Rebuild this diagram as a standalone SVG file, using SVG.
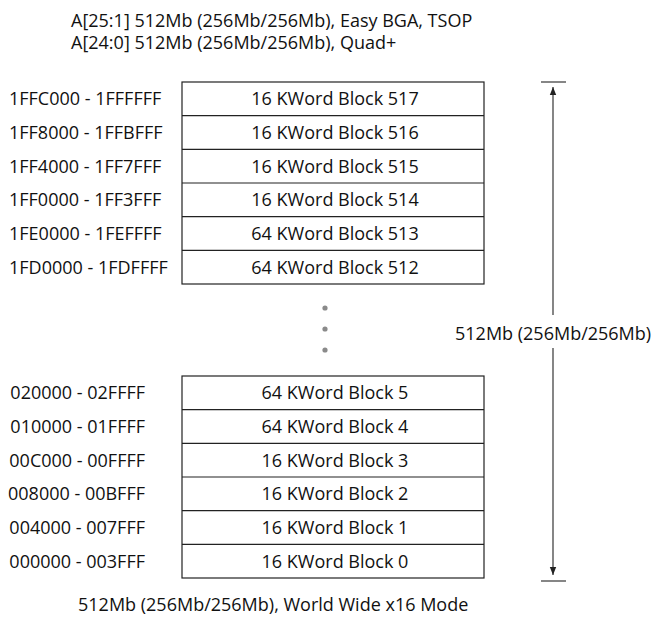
<svg xmlns="http://www.w3.org/2000/svg" width="656" height="623" viewBox="0 0 656 623">
<style>
text{font-family:"Open Sans","Noto Sans","Liberation Sans",sans-serif;font-size:18px;fill:#111}
.c{text-anchor:middle}
.e{text-anchor:end}
.box{fill:#fff;stroke:#222;stroke-width:1.2}
.sep{stroke:#222;stroke-width:1.2}
.dim{stroke:#444;stroke-width:1.3;fill:none}
.dot{fill:#8a8a8a}
</style>
<defs>
<marker id="ah" viewBox="0 0 10 10" refX="10" refY="5" markerWidth="8" markerHeight="8" markerUnits="userSpaceOnUse" orient="auto">
<path d="M0,1 L10,5 L0,9 z" fill="#222"/>
</marker>
</defs>
<rect width="656" height="623" fill="#fff"/>
<g id="title">
<text x="71" y="26.5">A[25:1] 512Mb (256Mb/256Mb), Easy BGA, TSOP</text>
<text x="71" y="49">A[24:0] 512Mb (256Mb/256Mb), Quad+</text>
</g>
<g id="top-blocks">
<rect class="box" x="182" y="82" width="302" height="202"/>
<line class="sep" x1="182" y1="115.7" x2="484" y2="115.7"/>
<line class="sep" x1="182" y1="149.3" x2="484" y2="149.3"/>
<line class="sep" x1="182" y1="183" x2="484" y2="183"/>
<line class="sep" x1="182" y1="216.7" x2="484" y2="216.7"/>
<line class="sep" x1="182" y1="250.3" x2="484" y2="250.3"/>
<text class="c" x="335" y="105.3">16 KWord Block 517</text>
<text class="c" x="335" y="139">16 KWord Block 516</text>
<text class="c" x="335" y="172.6">16 KWord Block 515</text>
<text class="c" x="335" y="206.3">16 KWord Block 514</text>
<text class="c" x="335" y="240">64 KWord Block 513</text>
<text class="c" x="335" y="273.6">64 KWord Block 512</text>
<text x="9" y="105.3">1FFC000 - 1FFFFFF</text>
<text x="9" y="139">1FF8000 - 1FFBFFF</text>
<text x="9" y="172.6">1FF4000 - 1FF7FFF</text>
<text x="9" y="206.3">1FF0000 - 1FF3FFF</text>
<text x="9" y="240">1FE0000 - 1FEFFFF</text>
<text x="9" y="273.6">1FD0000 - 1FDFFFF</text>
</g>
<g id="ellipsis">
<circle class="dot" cx="325" cy="308" r="2.6"/>
<circle class="dot" cx="325" cy="329" r="2.6"/>
<circle class="dot" cx="325" cy="350" r="2.6"/>
</g>
<g id="bottom-blocks">
<rect class="box" x="182" y="376" width="302" height="202"/>
<line class="sep" x1="182" y1="409.7" x2="484" y2="409.7"/>
<line class="sep" x1="182" y1="443.3" x2="484" y2="443.3"/>
<line class="sep" x1="182" y1="477" x2="484" y2="477"/>
<line class="sep" x1="182" y1="510.7" x2="484" y2="510.7"/>
<line class="sep" x1="182" y1="544.3" x2="484" y2="544.3"/>
<text class="c" x="335" y="399.3">64 KWord Block 5</text>
<text class="c" x="335" y="433">64 KWord Block 4</text>
<text class="c" x="335" y="466.6">16 KWord Block 3</text>
<text class="c" x="335" y="500.3">16 KWord Block 2</text>
<text class="c" x="335" y="534">16 KWord Block 1</text>
<text class="c" x="335" y="567.6">16 KWord Block 0</text>
<text class="e" x="145" y="399.3">020000 - 02FFFF</text>
<text class="e" x="145" y="433">010000 - 01FFFF</text>
<text class="e" x="145" y="466.6">00C000 - 00FFFF</text>
<text class="e" x="145" y="500.3">008000 - 00BFFF</text>
<text class="e" x="145" y="534">004000 - 007FFF</text>
<text class="e" x="145" y="567.6">000000 - 003FFF</text>
</g>
<g id="connectors">
<line class="dim" x1="541" y1="82" x2="566" y2="82"/>
<line class="dim" x1="541" y1="581" x2="566" y2="581"/>
<line class="dim" x1="553" y1="315" x2="553" y2="87" marker-end="url(#ah)"/>
<line class="dim" x1="553" y1="348" x2="553" y2="575" marker-end="url(#ah)"/>
</g>
<g id="size-label">
<text x="455" y="339.5">512Mb (256Mb/256Mb)</text>
</g>
<g id="caption">
<text x="78" y="611">512Mb (256Mb/256Mb), World Wide x16 Mode</text>
</g>
</svg>
